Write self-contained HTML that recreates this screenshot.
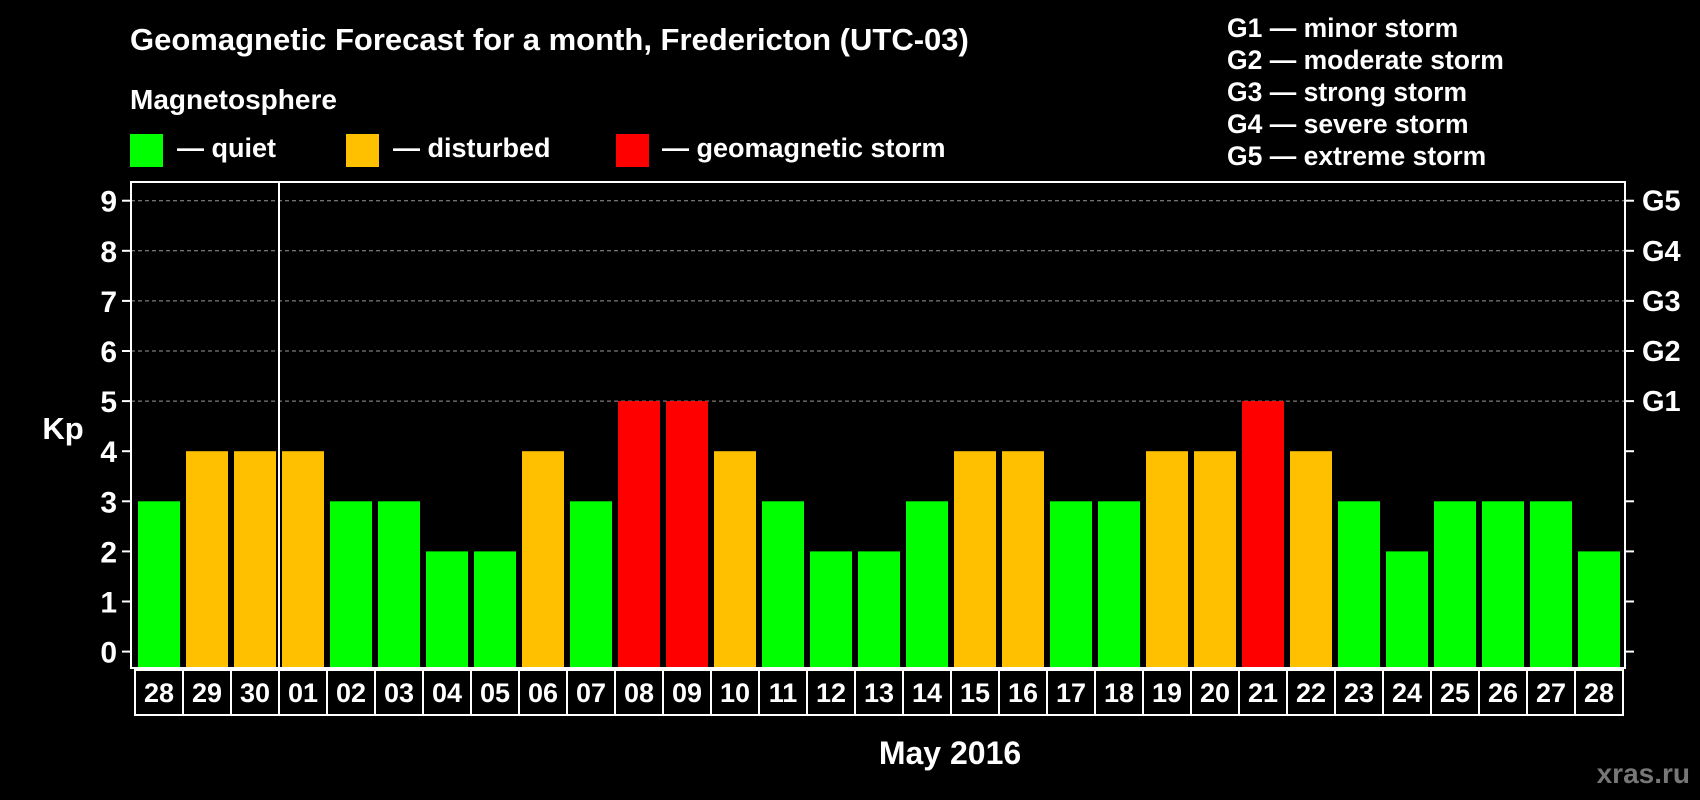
<!DOCTYPE html>
<html><head><meta charset="utf-8"><style>
html,body{margin:0;padding:0;background:#000;width:1700px;height:800px;overflow:hidden}
svg{display:block;font-family:"Liberation Sans",Arial,sans-serif;font-weight:bold}
</style></head><body>
<svg id="c" width="1700" height="800" xmlns="http://www.w3.org/2000/svg">
<text x="130" y="50" fill="#fff" font-size="31">Geomagnetic Forecast for a month, Fredericton (UTC-03)</text>
<text x="130" y="109" fill="#fff" font-size="28">Magnetosphere</text>
<rect x="130" y="134" width="33" height="33" fill="#00ff00"/>
<text x="177" y="157" fill="#fff" font-size="27">— quiet</text>
<rect x="346" y="134" width="33" height="33" fill="#ffc000"/>
<text x="393" y="157" fill="#fff" font-size="27">— disturbed</text>
<rect x="616" y="134" width="33" height="33" fill="#ff0000"/>
<text x="662" y="157" fill="#fff" font-size="27">— geomagnetic storm</text>
<g fill="#fff" font-size="26.5">
<text x="1227" y="37">G1 — minor storm</text>
<text x="1227" y="69">G2 — moderate storm</text>
<text x="1227" y="101">G3 — strong storm</text>
<text x="1227" y="133">G4 — severe storm</text>
<text x="1227" y="165">G5 — extreme storm</text>
</g>
<text x="63" y="439" fill="#fff" font-size="31" text-anchor="middle">Kp</text>
<text x="950" y="764" fill="#fff" font-size="32" text-anchor="middle">May 2016</text>
<text x="1690" y="783" fill="#777" font-size="28" text-anchor="end">xras.ru</text>
<g id="plot"></g>
</svg>
<script>
const dates=["28","29","30","01","02","03","04","05","06","07","08","09","10","11","12","13","14","15","16","17","18","19","20","21","22","23","24","25","26","27","28"];
const kp=[3,4,4,4,3,3,2,2,4,3,5,5,4,3,2,2,3,4,4,3,3,4,4,5,4,3,2,3,3,3,2];
const yTicks=[0,1,2,3,4,5,6,7,8,9];
const gLabels=["","","","","","G1","G2","G3","G4","G5"];
const NS="http://www.w3.org/2000/svg";
const g=document.getElementById("plot");
const L=131,R=1625,T=182,B=668;
const y=v=>651.6-v*50.1;
const step=(R-L-6)/dates.length;
const x=i=>L+7+i*step;
function mk(t,a){const e=document.createElementNS(NS,t);for(const k in a)e.setAttribute(k,a[k]);g.appendChild(e);return e;}
yTicks.forEach(v=>{
  if(v>=5){const l=mk("line",{x1:L,x2:R,y1:y(v),y2:y(v),stroke:"#999","stroke-dasharray":"4,3","stroke-width":1});
  
  }
  const t1=mk("line",{x1:L-9,x2:L,y1:y(v),y2:y(v),stroke:"#fff","stroke-width":2});
  
  
  const t2=mk("line",{x1:R,x2:R+9,y1:y(v),y2:y(v),stroke:"#fff","stroke-width":2});
  
  
  const lb=mk("text",{x:L-14,y:y(v)+11,fill:"#fff","font-size":30,"text-anchor":"end"});lb.textContent=v;
  
  
  if(gLabels[v]){const gl=mk("text",{x:R+17,y:y(v)+10,fill:"#fff","font-size":29});gl.textContent=gLabels[v];
  
  }
});
kp.forEach((v,i)=>{
  const c=v>=5?"#ff0000":v>=4?"#ffc000":"#00ff00";
  const r=mk("rect",{x:x(i),y:y(v),width:step-6,height:B-1-y(v),fill:c});
  
  
  const bx=mk("rect",{x:L+4+i*step,y:670,width:step,height:45,fill:"none",stroke:"#fff","stroke-width":2});
  
  
  const t=mk("text",{x:L+4+i*step+step/2,y:702,fill:"#fff","font-size":27,"text-anchor":"middle"});t.textContent=dates[i];
  
  
});
const fr=mk("rect",{x:L,y:T,width:R-L,height:B-T,fill:"none",stroke:"#fff","stroke-width":2});


const sep=mk("line",{x1:x(3)-3,x2:x(3)-3,y1:T,y2:715,stroke:"#fff","stroke-width":2});


</script>
</body></html>
